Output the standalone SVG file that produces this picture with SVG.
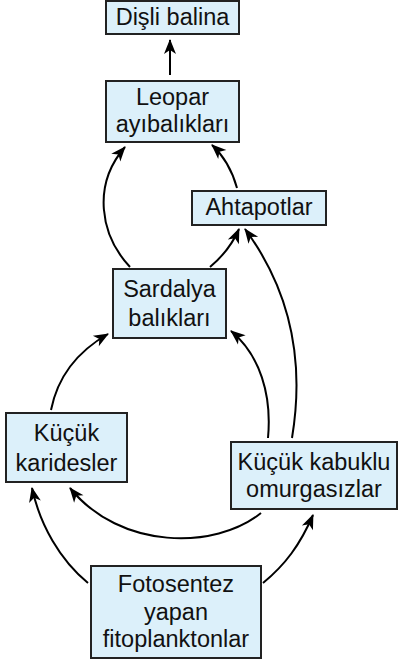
<svg xmlns="http://www.w3.org/2000/svg" width="398" height="661" viewBox="0 0 398 661">
<style>
.box{fill:#dcf0fa;stroke:#222;stroke-width:2}
.t{font-family:"Liberation Sans",Arial,sans-serif;font-size:23.5px;fill:#111;text-anchor:middle}
.c{fill:none;stroke:#000;stroke-width:2;marker-end:url(#ah)}
</style>
<defs>
<marker id="ah" markerUnits="userSpaceOnUse" markerWidth="16" markerHeight="12" refX="14" refY="6" orient="auto" overflow="visible">
<path d="M15,6 L0,0 L4,6 L0,12 Z" fill="#000"/>
</marker>
</defs>
<rect width="398" height="661" fill="#fff"/>
<g id="connectors">
<path class="c" d="M170,75 L170,40"/>
<path class="c" d="M130,267 C100,235 92,185 125,147"/>
<path class="c" d="M237,188 C232,170 225,157 212,145"/>
<path class="c" d="M210,267 C222,257 232,245 239,229"/>
<path class="c" d="M292,438 C305,360 290,290 245,229"/>
<path class="c" d="M268,438 C272,395 260,355 231,331"/>
<path class="c" d="M51,410 C58,375 80,350 108,334"/>
<path class="c" d="M261,513 C215,550 120,550 70,488"/>
<path class="c" d="M88,583 C60,560 40,525 32,488"/>
<path class="c" d="M263,583 C285,565 300,545 313,515"/>
</g>
<g id="disli">
<rect class="box" x="106" y="1" width="133" height="33"/>
<text class="t" x="172.5" y="25">Dişli balina</text>
</g>
<g id="leopar">
<rect class="box" x="106" y="81" width="133" height="61"/>
<text class="t" x="172.5" y="105">Leopar</text>
<text class="t" x="172.5" y="132">ayıbalıkları</text>
</g>
<g id="ahtapot">
<rect class="box" x="192" y="191" width="134" height="34"/>
<text class="t" x="259" y="215">Ahtapotlar</text>
</g>
<g id="sardalya">
<rect class="box" x="113" y="269" width="113" height="69"/>
<text class="t" x="169.5" y="297">Sardalya</text>
<text class="t" x="169.5" y="326">balıkları</text>
</g>
<g id="karides">
<rect class="box" x="6" y="413" width="121" height="69"/>
<text class="t" x="66.5" y="441">Küçük</text>
<text class="t" x="66.5" y="471">karidesler</text>
</g>
<g id="kabuklu">
<rect class="box" x="231" y="442" width="166" height="67"/>
<text class="t" x="314" y="470">Küçük kabuklu</text>
<text class="t" x="314" y="497">omurgasızlar</text>
</g>
<g id="fito">
<rect class="box" x="91" y="566" width="170" height="92"/>
<text class="t" x="176" y="592">Fotosentez</text>
<text class="t" x="176" y="620">yapan</text>
<text class="t" x="176" y="647">fitoplanktonlar</text>
</g>
</svg>
